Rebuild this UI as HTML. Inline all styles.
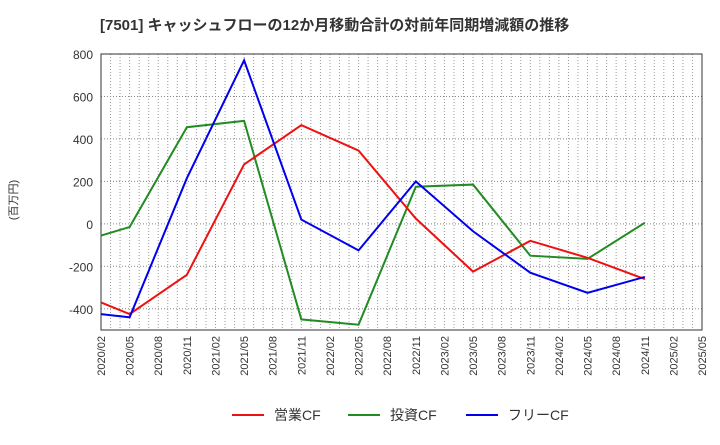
<!DOCTYPE html>
<html><head><meta charset="utf-8"><style>
body{margin:0;background:#fff;font-family:"Liberation Sans","Noto Sans CJK JP",sans-serif;}
</style></head><body>
<svg id="c" width="720" height="440" xmlns="http://www.w3.org/2000/svg"></svg>
<script>
const xLabels=["2020/02","2020/05","2020/08","2020/11","2021/02","2021/05","2021/08","2021/11","2022/02","2022/05","2022/08","2022/11","2023/02","2023/05","2023/08","2023/11","2024/02","2024/05","2024/08","2024/11","2025/02","2025/05"];
const yTicks=[800,600,400,200,0,-200,-400];
const pointIdx=[0,1,3,5,7,9,11,13,15,17,19];
const opCF=[-370,-425,-240,280,465,345,25,-225,-80,-160,-260];
const invCF=[-55,-15,455,485,-450,-475,175,185,-150,-165,5];
const freeCF=[-425,-440,215,770,20,-125,200,-35,-230,-325,-250];
const NS="http://www.w3.org/2000/svg";
const svg=document.getElementById('c');
const L=101,R=702,T=54,B=330,ymin=-500,ymax=800;
const months=(xLabels.length-1)*3;
function xm(m){return L+(R-L)*m/months;}
function xs(i){return xm(i*3);}
function ys(v){return T+(ymax-v)/(ymax-ymin)*(B-T);}
function mk(tag,attrs,parent){const e=document.createElementNS(NS,tag);for(const k in attrs)e.setAttribute(k,attrs[k]);(parent||svg).appendChild(e);return e;}
const title=mk('text',{x:100,y:30,'font-size':15,'font-weight':'bold',fill:'#333'});


title.textContent="[7501]  キャッシュフローの12か月移動合計の対前年同期増減額の推移";
const grid=mk('g',{});


for(let m=1;m<months;m++){mk('line',{x1:xm(m),x2:xm(m),y1:T,y2:B,stroke:'#999','stroke-dasharray':'1,2','stroke-width':1},grid);}
yTicks.forEach(v=>{
 const l=mk('line',{x1:L,x2:R,y1:ys(v),y2:ys(v),stroke:'#888','stroke-dasharray':'1,2','stroke-width':1},grid);
 const t=mk('text',{x:L-8,y:ys(v)+5,'text-anchor':'end','font-size':12,fill:'#333'});
 
 
 t.textContent=v;
});
const frame=mk('rect',{x:L,y:T,width:R-L,height:B-T,fill:'none',stroke:'#333','stroke-width':1});


xLabels.forEach((s,i)=>{
 const t=mk('text',{x:0,y:0,transform:`translate(${xs(i)+4},${B+6}) rotate(-90)`,'text-anchor':'end','font-size':11,fill:'#333'});
 
 
 t.textContent=s;
});
const yt=mk('text',{x:0,y:0,transform:`translate(17,200) rotate(-90)`,'text-anchor':'middle','font-size':11,fill:'#333'});


yt.textContent="(百万円)";
function series(vals,color,name){
 const p=mk('polyline',{points:vals.map((v,k)=>xs(pointIdx[k])+','+ys(v)).join(' '),fill:'none',stroke:color,'stroke-width':2});
 
 
}
series(invCF,'#228B22','investing-cf-line');
series(opCF,'#EE1111','operating-cf-line');
series(freeCF,'#0000EE','free-cf-line');
const leg=[["営業CF","#EE1111",232],["投資CF","#228B22",348],["フリーCF","#0000EE",466]];
leg.forEach(([n,c,x])=>{
 const g=mk('g',{});
 
 
 mk('line',{x1:x,x2:x+32,y1:415,y2:415,stroke:c,'stroke-width':2},g);
 const t=mk('text',{x:x+42,y:420,'font-size':14,fill:'#333'},g);
 t.textContent=n;
});
</script>
</body></html>
